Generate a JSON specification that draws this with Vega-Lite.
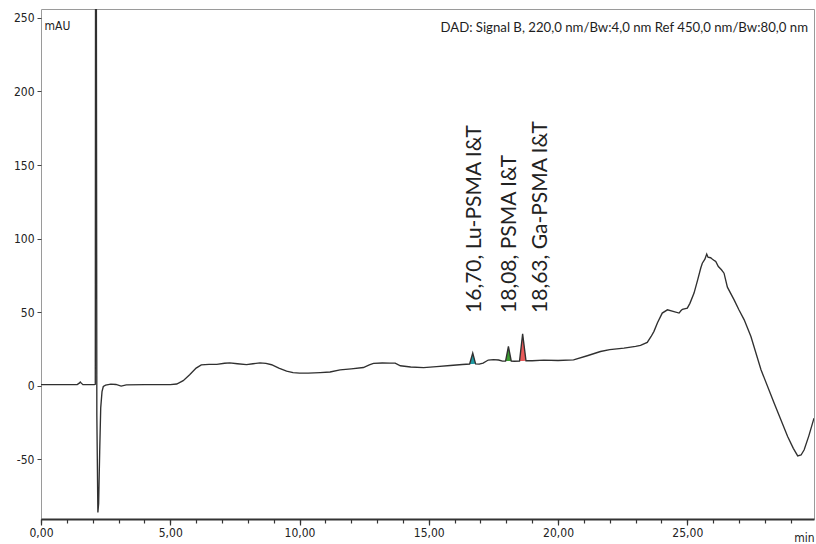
{
  "$schema": "https://vega.github.io/schema/vega-lite/v6.json",
  "width": 773,
  "height": 510,
  "autosize": "none",
  "padding": {"left": 41, "top": 9, "right": 2, "bottom": 25},
  "background": "white",
  "config": {
    "view": {"stroke": "#9a9a9a", "strokeWidth": 1},
    "axis": {"grid": false, "labelFont": "DejaVu Sans Condensed, DejaVu Sans", "labelFontSize": 12, "labelColor": "#222", "titleFont": "DejaVu Sans Condensed, DejaVu Sans", "titleFontSize": 12, "titleFontWeight": "normal", "titleColor": "#222"}
  },
  "title": {
    "text": "DAD: Signal B, 220,0 nm/Bw:4,0 nm Ref 450,0 nm/Bw:80,0 nm",
    "anchor": "end",
    "orient": "top",
    "frame": "group",
    "offset": 0,
    "baseline": "alphabetic",
    "dy": 36,
    "dx": -6,
    "font": "Lato",
    "fontSize": 13.2,
    "fontWeight": "normal",
    "color": "#1e1e1e"
  },
  "datasets": {
    "trace": [
      {"t": 0.0, "v": 0.8}, {"t": 0.5, "v": 0.8}, {"t": 1.0, "v": 0.8}, {"t": 1.4, "v": 0.8},
      {"t": 1.48, "v": 1.8}, {"t": 1.52, "v": 2.6}, {"t": 1.56, "v": 1.8}, {"t": 1.62, "v": 0.8},
      {"t": 2.06, "v": 0.8}, {"t": 2.1, "v": 1.0}, {"t": 2.12, "v": 600}, {"t": 2.14, "v": 300},
      {"t": 2.16, "v": -20}, {"t": 2.2, "v": -86}, {"t": 2.23, "v": -80}, {"t": 2.27, "v": -45},
      {"t": 2.31, "v": -15}, {"t": 2.36, "v": -4}, {"t": 2.41, "v": -0.5}, {"t": 2.5, "v": 0.4},
      {"t": 2.7, "v": 1.1}, {"t": 2.9, "v": 0.9}, {"t": 3.1, "v": -0.2}, {"t": 3.3, "v": 0.6},
      {"t": 4.0, "v": 0.8}, {"t": 5.0, "v": 0.8}, {"t": 5.25, "v": 1.2}, {"t": 5.5, "v": 3.5},
      {"t": 5.75, "v": 7.5}, {"t": 6.0, "v": 12.0}, {"t": 6.2, "v": 14.2}, {"t": 6.5, "v": 14.6},
      {"t": 6.8, "v": 14.6}, {"t": 7.1, "v": 15.3}, {"t": 7.3, "v": 15.6}, {"t": 7.6, "v": 15.0},
      {"t": 7.95, "v": 14.4}, {"t": 8.2, "v": 15.0}, {"t": 8.47, "v": 15.6}, {"t": 8.7, "v": 15.2},
      {"t": 8.92, "v": 14.3}, {"t": 9.2, "v": 12.0}, {"t": 9.5, "v": 10.0}, {"t": 9.75, "v": 8.9},
      {"t": 10.0, "v": 8.6}, {"t": 10.34, "v": 8.6}, {"t": 10.8, "v": 9.0}, {"t": 11.18, "v": 9.4},
      {"t": 11.57, "v": 10.8}, {"t": 12.0, "v": 11.5}, {"t": 12.47, "v": 12.4}, {"t": 12.7, "v": 14.2},
      {"t": 12.86, "v": 15.2}, {"t": 13.2, "v": 15.5}, {"t": 13.5, "v": 15.4}, {"t": 13.7, "v": 15.4},
      {"t": 13.9, "v": 13.6}, {"t": 14.3, "v": 12.8}, {"t": 14.8, "v": 12.3}, {"t": 15.3, "v": 13.0},
      {"t": 15.83, "v": 13.8}, {"t": 16.3, "v": 14.5}, {"t": 16.58, "v": 14.8}, {"t": 16.7, "v": 22.2},
      {"t": 16.81, "v": 14.9}, {"t": 16.95, "v": 14.7}, {"t": 17.1, "v": 15.4}, {"t": 17.3, "v": 17.5},
      {"t": 17.5, "v": 17.8}, {"t": 17.7, "v": 17.5}, {"t": 17.85, "v": 16.8}, {"t": 17.97, "v": 16.8},
      {"t": 18.08, "v": 26.7}, {"t": 18.19, "v": 16.8}, {"t": 18.3, "v": 16.7}, {"t": 18.51, "v": 16.8},
      {"t": 18.63, "v": 35.3}, {"t": 18.76, "v": 17.0}, {"t": 19.0, "v": 17.0}, {"t": 19.45, "v": 17.4},
      {"t": 20.0, "v": 17.2}, {"t": 20.6, "v": 17.6}, {"t": 21.13, "v": 20.4}, {"t": 21.64, "v": 23.3},
      {"t": 22.0, "v": 24.6}, {"t": 22.55, "v": 25.6}, {"t": 23.0, "v": 26.8}, {"t": 23.19, "v": 27.4},
      {"t": 23.45, "v": 29.5}, {"t": 23.6, "v": 33.5}, {"t": 23.71, "v": 37.0}, {"t": 23.85, "v": 43.0},
      {"t": 24.03, "v": 49.4}, {"t": 24.23, "v": 51.6}, {"t": 24.45, "v": 50.5}, {"t": 24.68, "v": 49.4},
      {"t": 24.75, "v": 51.0}, {"t": 24.81, "v": 52.0}, {"t": 25.0, "v": 52.8}, {"t": 25.1, "v": 56.0},
      {"t": 25.26, "v": 63.0}, {"t": 25.4, "v": 72.0}, {"t": 25.52, "v": 80.0}, {"t": 25.58, "v": 83.3},
      {"t": 25.68, "v": 86.0}, {"t": 25.75, "v": 89.5}, {"t": 25.8, "v": 87.4}, {"t": 25.9, "v": 87.0},
      {"t": 25.95, "v": 86.3}, {"t": 26.05, "v": 85.0}, {"t": 26.1, "v": 84.5}, {"t": 26.2, "v": 81.0},
      {"t": 26.32, "v": 78.8}, {"t": 26.42, "v": 76.5}, {"t": 26.55, "v": 67.0}, {"t": 26.81, "v": 58.4},
      {"t": 27.0, "v": 51.5}, {"t": 27.2, "v": 44.8}, {"t": 27.46, "v": 33.5}, {"t": 27.85, "v": 10.9},
      {"t": 28.36, "v": -11.8}, {"t": 28.88, "v": -34.4}, {"t": 29.1, "v": -42.5}, {"t": 29.27, "v": -47.6},
      {"t": 29.4, "v": -47.0}, {"t": 29.52, "v": -43.5}, {"t": 29.7, "v": -34.0}, {"t": 29.9, "v": -22.0}
    ],
    "peaks": [
      {"peak": "Lu-PSMA I&T", "t": 16.58, "v": 14.8, "base": 14.8},
      {"peak": "Lu-PSMA I&T", "t": 16.7, "v": 22.2, "base": 14.85},
      {"peak": "Lu-PSMA I&T", "t": 16.81, "v": 14.9, "base": 14.9},
      {"peak": "PSMA I&T", "t": 17.97, "v": 16.8, "base": 16.8},
      {"peak": "PSMA I&T", "t": 18.08, "v": 26.7, "base": 16.8},
      {"peak": "PSMA I&T", "t": 18.19, "v": 16.8, "base": 16.8},
      {"peak": "Ga-PSMA I&T", "t": 18.51, "v": 16.8, "base": 16.8},
      {"peak": "Ga-PSMA I&T", "t": 18.63, "v": 35.3, "base": 16.9},
      {"peak": "Ga-PSMA I&T", "t": 18.76, "v": 17.0, "base": 17.0}
    ],
    "labels": [
      {"rt": 16.7, "label": "16,70, Lu-PSMA I&T"},
      {"rt": 18.08, "label": "18,08, PSMA I&T"},
      {"rt": 18.63, "label": "18,63, Ga-PSMA I&T"}
    ]
  },
  "resolve": {"axis": {"x": "independent"}},
  "layer": [
    {
      "data": {"name": "peaks"},
      "mark": {"type": "area", "interpolate": "linear", "fillOpacity": 1},
      "encoding": {
        "x": {"field": "t", "type": "quantitative", "scale": {"domain": [0, 29.9], "nice": false},
          "axis": {
            "orient": "bottom",
            "values": [0,1,2,3,4,5,6,7,8,9,10,11,12,13,14,15,16,17,18,19,20,21,22,23,24,25,26,27,28,29],
            "labels": false, "ticks": true, "tickSize": 4, "tickColor": "#333", "tickWidth": 1.2,
            "domain": true, "domainColor": "#333", "domainWidth": 2, "title": null
          }
        },
        "y": {"field": "v", "type": "quantitative", "stack": null, "scale": {"domain": [-90.5, 256], "nice": false},
          "axis": {
            "values": [-50, 0, 50, 100, 150, 200, 250],
            "labelExpr": "datum.value + ''",
            "domain": false, "ticks": true, "tickColor": "#444", "tickSize": 4, "tickWidth": 1, "labelPadding": 3,
            "title": "mAU", "titleAngle": 0, "titleX": 3, "titleY": 16, "titleAlign": "left", "titleBaseline": "middle"
          }
        },
        "y2": {"field": "base"},
        "fill": {"field": "peak", "type": "nominal", "legend": null,
          "scale": {"domain": ["Lu-PSMA I&T", "PSMA I&T", "Ga-PSMA I&T"], "range": ["#1f9aa3", "#3a9a30", "#e85a5a"]}}
      }
    },
    {
      "data": {"name": "trace"},
      "mark": {"type": "line", "color": "#303030", "strokeWidth": 1.35, "clip": true},
      "encoding": {
        "x": {"field": "t", "type": "quantitative",
          "axis": {
            "orient": "bottom",
            "values": [0, 5, 10, 15, 20, 25],
            "labelExpr": "replace(format(datum.value, '.2f'), '.', ',')",
            "ticks": true, "tickSize": 6, "tickColor": "#333", "tickWidth": 1.2,
            "domain": false, "labelPadding": 2, "labelFlush": false, "labelOverlap": false,
            "title": "min", "titleX": 773, "titleY": 22, "titleAlign": "right", "titleBaseline": "alphabetic"
          }
        },
        "y": {"field": "v", "type": "quantitative"}
      }
    },
    {
      "data": {"name": "labels"},
      "mark": {"type": "text", "angle": 270, "align": "left", "baseline": "middle", "font": "Lato", "fontSize": 21, "color": "#222",
        "dy": {"expr": "datum.rt > 18.5 ? 18 : 2"}},
      "encoding": {
        "x": {"field": "rt", "type": "quantitative", "axis": null},
        "y": {"datum": 49.5},
        "text": {"field": "label"}
      }
    }
  ]
}
